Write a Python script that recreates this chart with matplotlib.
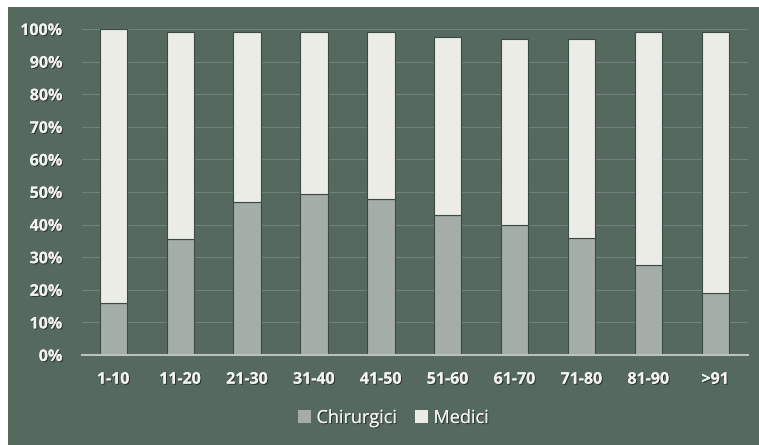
import matplotlib
matplotlib.use("Agg")
import matplotlib.pyplot as plt
import matplotlib.patheffects as pe
from matplotlib.patches import Rectangle
import numpy as np

categories = ["1-10", "11-20", "21-30", "31-40", "41-50", "51-60", "61-70", "71-80", "81-90", ">91"]
chirurgici = [16, 35.5, 47, 49.5, 48, 43, 40, 36, 27.5, 19]
medici = [84, 63.5, 52, 49.5, 51, 54.5, 57, 61, 71.5, 80]
yticks = [0, 10, 20, 30, 40, 50, 60, 70, 80, 90, 100]

bg = "#55695f"
c_chir = "#a4aea7"
c_med = "#ecece7"
txt = "#f2f2ee"
shadow = [pe.withSimplePatchShadow(offset=(0.8, -0.8), shadow_rgbFace="#222a26", alpha=0.8)]

fig = plt.figure(figsize=(7.59, 4.45), dpi=100)
fig.patch.set_facecolor("white")
fig.add_artist(Rectangle((8 / 759, 0), 1 - 8 / 759, (445 - 7) / 445,
                         transform=fig.transFigure, facecolor=bg, edgecolor="none", zorder=-10))

ax = fig.add_axes([82 / 759, (445 - 355) / 445, (748 - 82) / 759, (355 - 29) / 445])
ax.set_facecolor("none")
ax.set_zorder(5)

x = np.arange(len(categories))
w = 0.41
chir = np.array(chirurgici) / 100
med = np.array(medici) / 100
ax.bar(x, chir, w, color=c_chir, edgecolor="#3b4a43", linewidth=0.8, label="Chirurgici", zorder=3)
ax.bar(x, med, w, bottom=chir, color=c_med, edgecolor="#3b4a43", linewidth=0.8, label="Medici", zorder=3)

ax.set_xlim(-0.47, len(categories) - 0.51)
ax.set_ylim(0, 1)
ax.set_yticks(np.array(yticks) / 100)
ax.set_yticklabels([f"{t}%" for t in yticks])
ax.set_xticks(x)
ax.set_xticklabels(categories)
ax.grid(axis="y", color="#6f827a", linewidth=0.8, zorder=1)
ax.set_axisbelow(True)
for s in ["top", "right", "left"]:
    ax.spines[s].set_visible(False)
ax.spines["bottom"].set_color("#b9c2bd")
ax.spines["bottom"].set_linewidth(1.5)
ax.spines["bottom"].set_zorder(4)
ax.tick_params(axis="both", length=0, colors=txt)
ax.tick_params(axis="y", pad=14)
ax.tick_params(axis="x", pad=12)
for lab in ax.get_xticklabels() + ax.get_yticklabels():
    lab.set_fontfamily("Open Sans")
    lab.set_fontweight("bold")
    lab.set_fontsize(11.5)
    lab.set_color(txt)
    lab.set_path_effects(shadow + [pe.Normal()])

leg = fig.legend(loc="center", bbox_to_anchor=(393 / 759, (445 - 418) / 445), ncol=2,
                 frameon=False, handlelength=0.75, handleheight=0.75, handletextpad=0.3,
                 columnspacing=1.0, prop={"family": "Open Sans", "size": 13})
for t in leg.get_texts():
    t.set_color(txt)
    t.set_path_effects(shadow + [pe.Normal()])
for h in leg.legend_handles:
    h.set_edgecolor("none")

fig.savefig("out.png", dpi=100, facecolor=fig.get_facecolor())
